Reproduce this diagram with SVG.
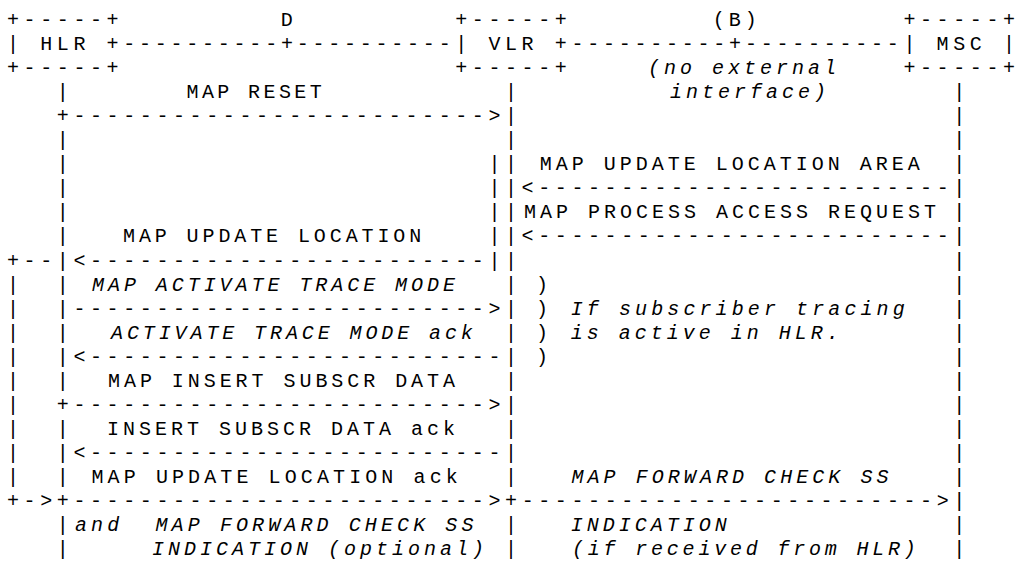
<svg xmlns="http://www.w3.org/2000/svg" width="1018" height="563" viewBox="0 0 1018 563">
<style>
text{font-family:"Liberation Mono","DejaVu Sans Mono",monospace;font-size:20px;fill:#000;letter-spacing:4.6px}
.l{letter-spacing:4px}
.i{font-style:italic}
</style>
<rect width="1018" height="563" fill="#fff"/>
<g id="hlr">
<text x="7" y="26">+-----+</text>
<text x="7" y="50.05">| HLR +</text>
<text x="7" y="74.1">+-----+</text>
</g>
<g id="vlr">
<text x="455.2" y="26">+-----+</text>
<text x="455.2" y="50.05">| VLR +</text>
<text x="455.2" y="74.1">+-----+</text>
</g>
<g id="msc">
<text x="903.4" y="26">+-----+</text>
<text x="903.4" y="50.05">| MSC |</text>
<text x="903.4" y="74.1">+-----+</text>
</g>
<g id="connectors">
<text x="123.2" y="50.05" style="letter-spacing:3.77px">----------+----------</text>
<text x="571.4" y="50.05" style="letter-spacing:3.77px">----------+----------</text>
<text x="280.7" y="26" class="l">D</text>
<text x="712.7" y="26" class="l">(B)</text>
<text x="648" y="74.1" class="l i">(no external</text>
<text x="670" y="98.15" class="l i">interface)</text>
<text x="56.8" y="98.15">|</text><text x="505" y="98.15">|</text><text x="953.2" y="98.15">|</text>
<text x="56.8" y="122.2">+-------------------------&gt;|</text><text x="953.2" y="122.2">|</text>
<text x="56.8" y="146.25">|</text><text x="505" y="146.25">|</text><text x="953.2" y="146.25">|</text>
<text x="56.8" y="170.3">|</text><text x="488.4" y="170.3">||</text><text x="953.2" y="170.3">|</text>
<text x="56.8" y="194.35">|</text><text x="488.4" y="194.35">||&lt;-------------------------|</text>
<text x="56.8" y="218.4">|</text><text x="488.4" y="218.4">||</text><text x="953.2" y="218.4">|</text>
<text x="56.8" y="242.45">|</text><text x="488.4" y="242.45">||&lt;-------------------------|</text>
<text x="7" y="266.5">+--|&lt;------------------------||</text><text x="953.2" y="266.5">|</text>
<text x="7" y="290.55" xml:space="preserve">|  |</text><text x="505" y="290.55">|</text><text x="953.2" y="290.55">|</text>
<text x="7" y="314.6" xml:space="preserve">|  |-------------------------&gt;|</text><text x="953.2" y="314.6">|</text>
<text x="7" y="338.65" xml:space="preserve">|  |</text><text x="505" y="338.65">|</text><text x="953.2" y="338.65">|</text>
<text x="7" y="362.7" xml:space="preserve">|  |&lt;-------------------------|</text><text x="953.2" y="362.7">|</text>
<text x="7" y="386.75" xml:space="preserve">|  |</text><text x="505" y="386.75">|</text><text x="953.2" y="386.75">|</text>
<text x="7" y="410.8" xml:space="preserve">|  +-------------------------&gt;|</text><text x="953.2" y="410.8">|</text>
<text x="7" y="434.85" xml:space="preserve">|  |</text><text x="505" y="434.85">|</text><text x="953.2" y="434.85">|</text>
<text x="7" y="458.9" xml:space="preserve">|  |&lt;-------------------------|</text><text x="953.2" y="458.9">|</text>
<text x="7" y="482.95" xml:space="preserve">|  |</text><text x="505" y="482.95">|</text><text x="953.2" y="482.95">|</text>
<text x="7" y="507">+-&gt;+-------------------------&gt;+-------------------------&gt;|</text>
<text x="56.8" y="531.05">|</text><text x="505" y="531.05">|</text><text x="953.2" y="531.05">|</text>
<text x="56.8" y="555.1">|</text><text x="505" y="555.1">|</text><text x="953.2" y="555.1">|</text>
</g>
<g id="labels">
<text x="186.5" y="98.15" style="letter-spacing:3.4px">MAP RESET</text>
<text x="539.8" y="170.3" class="l">MAP UPDATE LOCATION AREA</text>
<text x="524" y="218.4" class="l">MAP PROCESS ACCESS REQUEST</text>
<text x="123" y="242.45" style="letter-spacing:3.9px">MAP UPDATE LOCATION</text>
<text x="92" y="290.55" class="i" style="letter-spacing:3.95px">MAP ACTIVATE TRACE MODE</text>
<text x="536" y="290.55" class="l">)</text>
<text x="536" y="314.6" class="l">)</text>
<text x="570.7" y="314.6" class="i" style="letter-spacing:4.1px">If subscriber tracing</text>
<text x="111" y="338.65" class="i" style="letter-spacing:3.9px">ACTIVATE TRACE MODE ack</text>
<text x="536" y="338.65" class="l">)</text>
<text x="570.7" y="338.65" class="l i">is active in HLR.</text>
<text x="536" y="362.7" class="l">)</text>
<text x="108" y="386.75" style="letter-spacing:3.95px">MAP INSERT SUBSCR DATA</text>
<text x="107" y="434.85" class="l">INSERT SUBSCR DATA ack</text>
<text x="91.5" y="482.95" style="letter-spacing:4.1px">MAP UPDATE LOCATION ack</text>
<text x="571.5" y="482.95" class="i" style="letter-spacing:4.05px">MAP FORWARD CHECK SS</text>
<text x="75" y="531.05" class="i" xml:space="preserve" style="letter-spacing:4.1px">and  MAP FORWARD CHECK SS</text>
<text x="570.7" y="531.05" class="l i">INDICATION</text>
<text x="152" y="555.1" class="l i">INDICATION (optional)</text>
<text x="572" y="555.1" class="i" style="letter-spacing:3.8px">(if received from HLR)</text>
</g>
</svg>
